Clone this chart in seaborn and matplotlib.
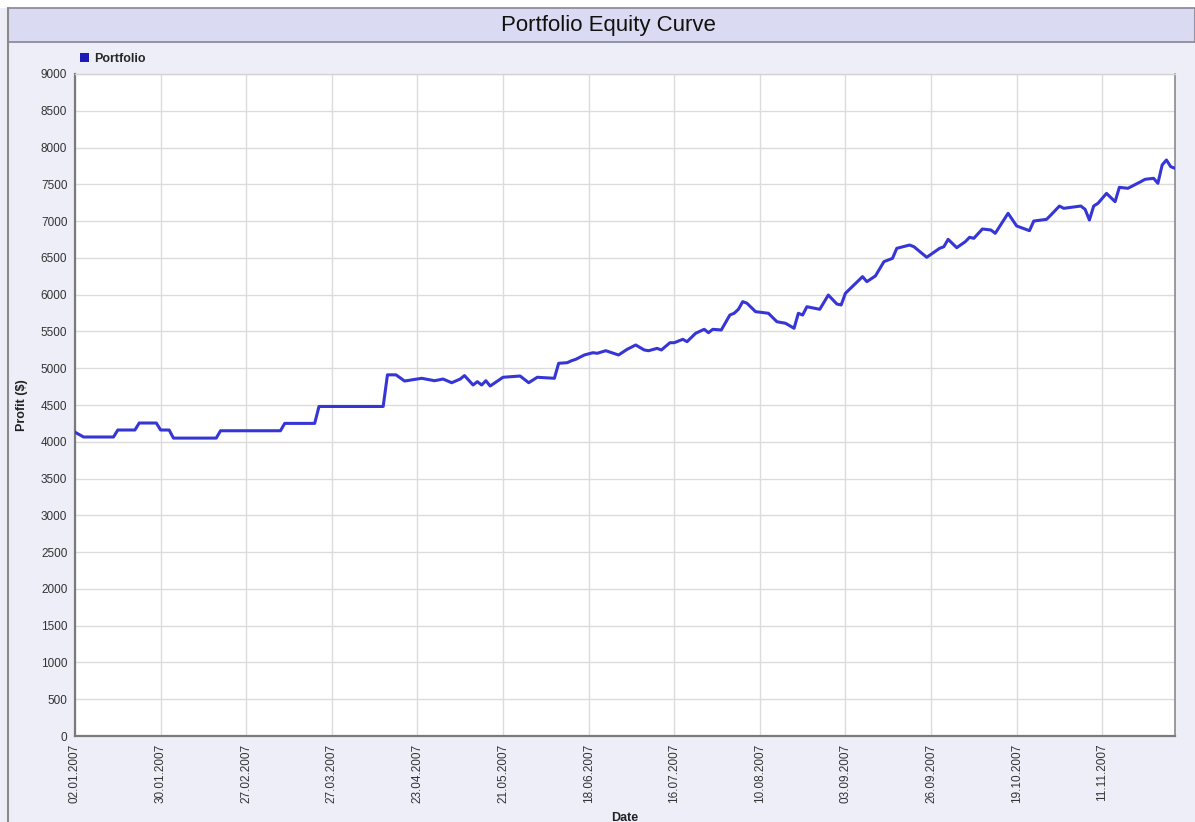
import numpy as np
import pandas as pd
import matplotlib
matplotlib.use("Agg")
import matplotlib.pyplot as plt
import seaborn as sns
from matplotlib.patches import Rectangle, Patch
from matplotlib.lines import Line2D

# ---- data ----
day_index = [0, 2, 9, 10, 14, 15, 19, 20, 22, 23, 33, 34, 48, 49, 56, 57, 72, 73, 75, 77,
             81, 84, 86, 88, 90, 91, 93, 94, 95, 96, 97, 100, 104, 106, 108, 112, 113, 115,
             116, 117, 119, 121, 122, 124, 127, 129, 131, 133, 134, 136, 137, 139, 140, 142,
             143, 145, 147, 148, 149, 151, 153, 154, 155, 156, 157, 159, 162, 164, 166, 168,
             169, 170, 171, 174, 176, 178, 179, 180, 184, 185, 187, 189, 191, 192, 195, 196,
             199, 202, 203, 204, 206, 208, 209, 210, 212, 214, 215, 218, 220, 223, 224, 227,
             228, 230, 231, 235, 236, 237, 238, 239, 241, 243, 244, 246, 249, 250, 252, 253,
             254, 255, 256, 257]
profit = [4130, 4065, 4065, 4160, 4160, 4255, 4255, 4160, 4160, 4050, 4050, 4150, 4150, 4250,
          4250, 4480, 4480, 4910, 4910, 4826, 4863, 4830, 4853, 4803, 4853, 4900, 4772, 4817,
          4772, 4830, 4758, 4877, 4894, 4803, 4877, 4863, 5067, 5075, 5102, 5121, 5180, 5211,
          5203, 5238, 5180, 5257, 5316, 5248, 5238, 5270, 5248, 5347, 5347, 5393, 5361, 5475,
          5529, 5483, 5529, 5520, 5723, 5747, 5801, 5905, 5883, 5769, 5747, 5632, 5611, 5543,
          5747, 5723, 5836, 5801, 5995, 5873, 5860, 6019, 6245, 6177, 6254, 6449, 6494, 6630,
          6675, 6652, 6508, 6630, 6652, 6752, 6639, 6720, 6780, 6766, 6893, 6879, 6834, 7106,
          6934, 6870, 7001, 7024, 7083, 7205, 7174, 7205, 7160, 7015, 7205, 7242, 7377, 7264,
          7459, 7446, 7536, 7568, 7582, 7514, 7763, 7831, 7740, 7718]
x_tick_positions = list(range(0, 241, 20))
x_tick_labels = ["02.01.2007", "30.01.2007", "27.02.2007", "27.03.2007", "23.04.2007",
                 "21.05.2007", "18.06.2007", "16.07.2007", "10.08.2007", "03.09.2007",
                 "26.09.2007", "19.10.2007", "11.11.2007"]
y_ticks = list(range(0, 9001, 500))
series_name = "Portfolio"

# ---- style ----
sns.set_theme(style="white")
plt.rcParams["font.family"] = ["Liberation Sans", "DejaVu Sans"]

W, H = 1195, 822
fig = plt.figure(figsize=(W / 100, H / 100), dpi=100, facecolor="#eeeef9")

# window decorations
fig.patches.append(Rectangle((0, 1 - 8 / H), 1, 8 / H, transform=fig.transFigure,
                             facecolor="white", edgecolor="none", zorder=0))
fig.patches.append(Rectangle((8 / W, 1 - 42 / H), 1 - 8 / W, 34 / H, transform=fig.transFigure,
                             facecolor="#dadaf2", edgecolor="#8c8c9c", linewidth=1.3, zorder=0))
fig.add_artist(Line2D([8 / W, 8 / W], [0, 1 - 8 / H], transform=fig.transFigure,
                      color="#8a8a8a", lw=1.5))
fig.text(608 / W, 1 - 25 / H, "Portfolio Equity Curve", ha="center", va="center",
         fontsize=16, color="#111111")

# plot area
ax = fig.add_axes([75 / W, (H - 736) / H, 1100 / W, 662 / H])
ax.set_facecolor("white")

df = pd.DataFrame({"Date": day_index, "Profit": profit})
sns.lineplot(data=df, x="Date", y="Profit", ax=ax, color="#3636d6", linewidth=2.2,
             legend=False, zorder=3)

ax.set_xlim(0, 257)
ax.set_ylim(0, 9000)
ax.set_xticks(x_tick_positions)
ax.set_xticklabels(x_tick_labels, rotation=90, va="top", ha="center")
ax.set_yticks(y_ticks)
ax.set_yticklabels([str(v) for v in y_ticks])

ax.grid(True, color="#dcdcdc", linewidth=1)
ax.tick_params(axis="both", direction="out", length=4, width=1, color="#808080",
               labelsize=8.5, labelcolor="#333333", pad=1.5)

for side in ("left", "bottom"):
    ax.spines[side].set_color("#7a7a7a")
    ax.spines[side].set_linewidth(1.6)
ax.spines["right"].set_color("#8a8a8a")
ax.spines["right"].set_linewidth(1.2)
ax.spines["top"].set_color("#d4d4d4")
ax.spines["top"].set_linewidth(1)

ax.set_ylabel("Profit ($)", fontsize=9, fontweight="bold", color="#222222")
ax.yaxis.set_label_coords((28 - 75) / 1100, 0.5)
ax.set_xlabel("Date", fontsize=9, fontweight="bold", color="#222222")
ax.xaxis.set_label_coords(0.5, (736 - 812) / 662)

handle = Patch(facecolor="#1c1cb8", edgecolor="none", label=series_name)
ax.legend(handles=[handle], loc="center left", bbox_to_anchor=(80 / W, 1 - 59 / H),
          bbox_transform=fig.transFigure, frameon=False, borderpad=0, borderaxespad=0,
          handlelength=0.75, handleheight=0.75, handletextpad=0.35,
          prop={"size": 9, "weight": "bold"})

fig.savefig("out.png", dpi=100, facecolor=fig.get_facecolor())
